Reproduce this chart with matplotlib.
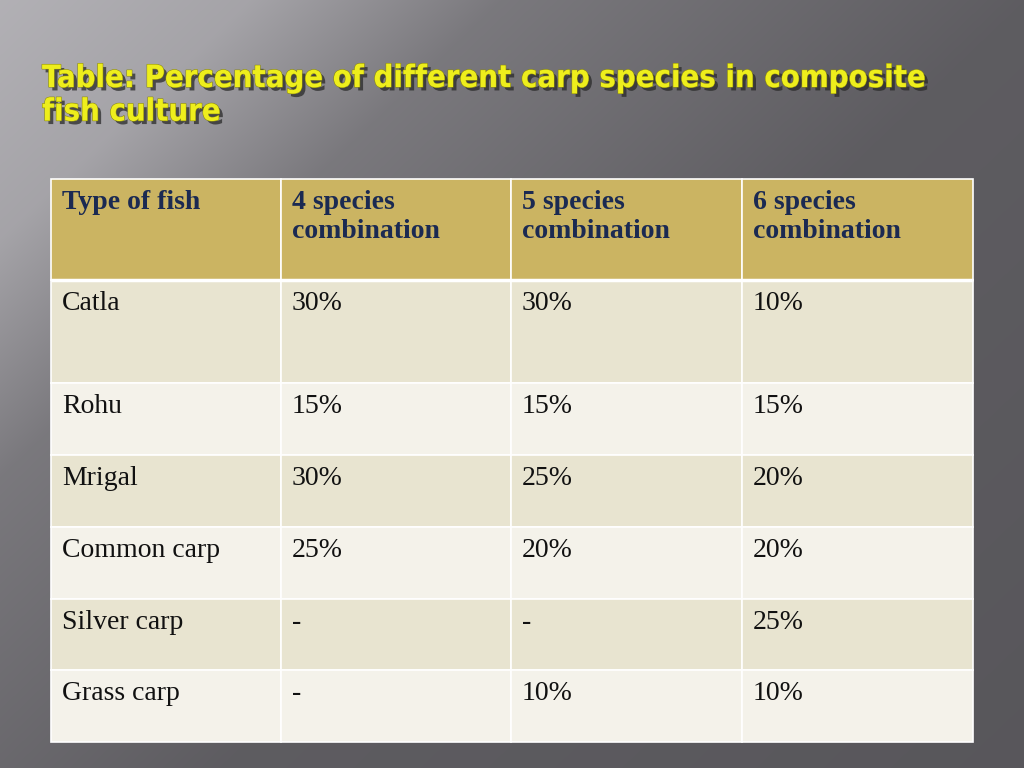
import numpy as np
import matplotlib
matplotlib.use("Agg")
import matplotlib.pyplot as plt
import matplotlib.patheffects as pe
from matplotlib.patches import Rectangle

# ── Table content ────────────────────────────────────────────────────────────
title = "Table: Percentage of different carp species in composite\nfish culture"
headers = ["Type of fish", "4 species\ncombination", "5 species\ncombination",
           "6 species\ncombination"]
fish = ["Catla", "Rohu", "Mrigal", "Common carp", "Silver carp", "Grass carp"]
combo4 = ["30%", "15%", "30%", "25%", "-", "-"]
combo5 = ["30%", "15%", "25%", "20%", "-", "10%"]
combo6 = ["10%", "15%", "20%", "20%", "25%", "10%"]

# ── Layout (pixels) ──────────────────────────────────────────────────────────
W, H = 1024, 768
col_edges = [51, 281, 511, 742, 973]
row_edges = [179, 280, 383, 455, 527, 599, 670, 742]

HEADER_BG = "#cbb462"
ROW_BG = ["#e8e4d0", "#f4f2ea"]
HEADER_FG = "#1b2a52"
BODY_FG = "#111111"

fig = plt.figure(figsize=(W / 100, H / 100), dpi=100)
ax = fig.add_axes([0, 0, 1, 1])
ax.set_xlim(0, W)
ax.set_ylim(H, 0)
ax.axis("off")

# background gradient: light top-left corner, darker towards right / bottom
yy, xx = np.mgrid[0:H, 0:W]
s = xx + 1.05 * yy
v = np.interp(s, [0, 250, 500, 800, 1024, 1830], [178, 165, 122, 106, 94, 88])
bg = np.dstack([v, v - 1.5, v + 3]) / 255.0
ax.imshow(np.clip(bg, 0, 1), extent=[0, W, H, 0], zorder=0, aspect="auto")

# title
ax.text(42, 64, title, fontsize=22.2, fontweight="bold", color="#eeee1c",
        family="DejaVu Sans", fontstretch="condensed", va="top", ha="left",
        linespacing=1.2,
        path_effects=[pe.SimplePatchShadow(offset=(2.5, -2.5), shadow_rgbFace="#2a2a2a", alpha=0.75),
                      pe.withStroke(linewidth=0.8, foreground="#8c8a10")])

columns = [fish, combo4, combo5, combo6]
n_rows = len(fish)

for ci in range(len(headers)):
    x0, x1 = col_edges[ci], col_edges[ci + 1]
    # header cell
    y0, y1 = row_edges[0], row_edges[1]
    ax.add_patch(Rectangle((x0, y0), x1 - x0, y1 - y0, facecolor=HEADER_BG,
                           edgecolor="white", lw=1.2, zorder=2))
    ax.text(x0 + 11, y0 + 11, headers[ci], fontsize=20, fontweight="bold",
            color=HEADER_FG, family="Liberation Serif", va="top", ha="left",
            linespacing=1.22, zorder=3)
    for ri in range(n_rows):
        y0, y1 = row_edges[ri + 1], row_edges[ri + 2]
        ax.add_patch(Rectangle((x0, y0), x1 - x0, y1 - y0, facecolor=ROW_BG[ri % 2],
                               edgecolor="white", lw=1.2, zorder=2))
        ax.text(x0 + 11, y0 + 11, columns[ci][ri], fontsize=20, color=BODY_FG,
                family="Liberation Serif", va="top", ha="left", zorder=3)

# thicker white line under the header
ax.plot([col_edges[0], col_edges[-1]], [row_edges[1], row_edges[1]],
        color="white", lw=2.5, solid_capstyle="butt", zorder=4)

fig.savefig("out.png", dpi=100)
